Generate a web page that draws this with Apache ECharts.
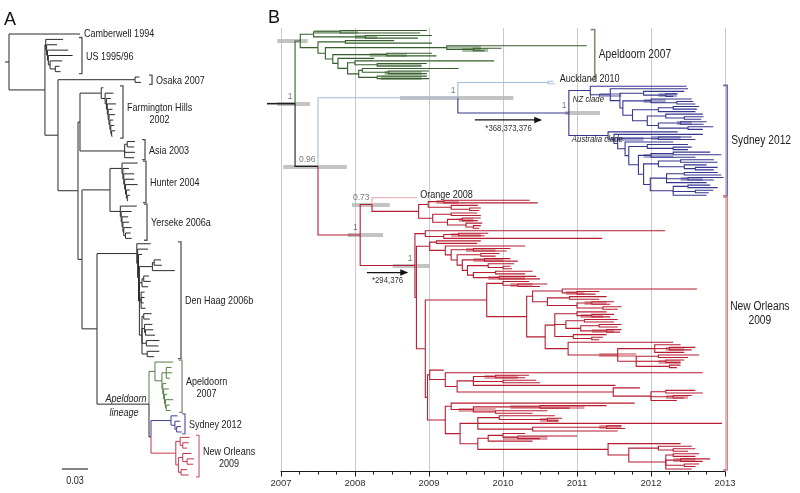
<!DOCTYPE html>
<html><head><meta charset="utf-8">
<script src="https://cdn.jsdelivr.net/npm/echarts/dist/echarts.min.js"></script>
<style>html,body{margin:0;padding:0;background:#fff}#chart{width:800px;height:493px}</style>
</head><body><div id="chart"></div>
<script>
// ================= DATA =================
// Panel A: divergence tree (substitutions/site). Node = [height, children...]; tip = number; string = named clade
const A_root = [0.0046, 'camberwell', [0.0461, 'us', [0.0611, 'osaka', [0.0842, [0.0865, 'farmington', 'asia'], [0.0888, [0.1211, 'hunter', 'yerseke'], [0.1061, 'denHaag', 'lineage']]]]]];
const A_lineage = [0.1661, 'apeldoorn', [0.1684, 'sydney', 'newOrleans']];
const A_camberwell = 0.0865;
const A_us = [0.047, 0.067, [0.048, 0.060, [0.049, 0.073, [0.050, 0.078, [0.052, 0.066, [0.058, 0.063, 0.064]]]]]];
const A_osaka = [0.150, 0.155, 0.157];
const A_farmington = [0.111, 0.1135, [0.1155, 0.125, [0.117, 0.122, [0.118, 0.128, [0.119, 0.124, [0.120, 0.127, [0.121, 0.125, [0.122, 0.126, [0.123, 0.127, 0.124]]]]]]]]];
const A_asia = [0.138, [0.141, 0.150, 0.149], 0.150, 0.149];
const A_hunter = [0.135, 0.153, [0.136, 0.143, [0.137, 0.149, [0.138, 0.149, [0.139, 0.153, [0.140, 0.144, [0.141, 0.144, 0.142]]]]]]];
const A_yerseke = [0.133, 0.152, [0.134, 0.146, [0.135, 0.142, [0.136, 0.143, [0.137, 0.146, [0.139, 0.145, 0.146]]]]]];
const A_denHaag = [0.152, 0.168, [0.153, 0.165, [0.154, 0.158, [0.155, [0.170, [0.172, 0.180, 0.181], 0.196], [0.158, [0.160, 0.166, 0.168], 0.165], [0.157, 0.161, 0.161, 0.160, 0.162], [0.158, [0.160, 0.169, 0.167], [0.161, 0.170, [0.162, 0.171, 0.173]], [0.163, 0.178, 0.177], [0.164, 0.178, 0.172]]]]]];
const A_apeldoorn = [0.173, 0.194, [0.181, [0.186, 0.192, 0.193, 0.190], [0.182, 0.186, [0.183, 0.189, [0.184, 0.187, [0.185, 0.194, [0.186, 0.190, 0.191]]]]]]];
const A_sydney = [0.1915, 0.199, [0.196, 0.202, [0.198, 0.203, 0.204]]];
const A_newOrleans = [0.197, [0.202, 0.213, [0.205, 0.212, 0.210]], [0.200, [0.205, 0.215, [0.210, 0.218, 0.217]], [0.203, 0.210, 0.212]]];
const A_scaleBar = 0.03;
const A_bracketClades = ['us', 'osaka', 'farmington', 'asia', 'hunter', 'yerseke', 'denHaag', 'apeldoorn', 'sydney', 'newOrleans'];
const A_bracketLabels = ['US 1995/96', 'Osaka 2007', 'Farmington Hills\n2002', 'Asia 2003', 'Hunter 2004', 'Yerseke 2006a', 'Den Haag 2006b', 'Apeldoorn\n2007', 'Sydney 2012', 'New Orleans\n2009'];

// Panel B: time-scaled tree (decimal years). Head may be [height, hpdLow, hpdHigh]
const yearTicks = [2007, 2008, 2009, 2010, 2011, 2012, 2013];
const B_root = [[2007.19, 2006.95, 2007.39], 'apeldoorn', 'n096'];
const B_n096 = [[2007.5, 2007.03, 2007.89], 'stem', 'newOrleans'];
const B_stem = [[2009.39, 2008.61, 2010.14], 'auckland', 'sydney'];
const B_auckland = [2010.61, 2010.68, 2010.70];
const B_sydney = [[2010.89, 2010.84, 2011.31], 'nz', 'australia'];
const B_apeldoorn = [[2007.26, 2006.95, 2007.36],
  [2007.44, [[2007.8, 2007.45, 2008.04], 2008.97, 2008.88], [[2008.14, 2008.0, 2008.3], 2009.04, 2008.85]],
  [2007.5,
    [2007.87, 2008.53, 2009.04],
    [2007.6,
      [[2009.24, 2009.24, 2009.7], 2011.13, [[2009.6, 2009.45, 2009.8], 2009.98, 2009.75]],
      [2007.7,
        [[2008.43, 2008.2, 2008.7], 2009.04, 2009.1],
        [2007.77,
          2008.26,
          [2007.9,
            [2008.0, 2009.88, [[2008.3, 2008.3, 2008.9], 2008.97, 2008.9]],
            [2008.05,
              [2008.1, 2009.4, [[2008.45, 2008.4, 2008.9], 2009.0, 2008.97]],
              [[2008.3, 2008.35, 2008.9], 2008.97, 2009.0]]]]]]]];
const B_nz = [2011.18,
  2012.48,
  [[2011.45, 2011.3, 2011.6],
    2012.5,
    [2011.58,
      [2011.9, 2012.45, [[2012.2, 2012.1, 2012.35], 2012.36, 2012.3]],
      [2011.62,
        [[2012.0, 2011.9, 2012.2], 2012.55, [2012.35, 2012.57, 2012.6]],
        [2011.75,
          [2012.1, [2012.3, 2012.65, 2012.62], 2012.6],
          [2011.95,
            [2012.2, 2012.7, [2012.45, 2012.71, 2012.68]],
            [2012.1, [[2012.4, 2012.35, 2012.55], 2012.75, 2012.71], [2012.5, 2012.84, 2012.7]]]]]]]];
const B_australia = [2011.42,
  2012.36,
  [[2011.5, 2011.45, 2011.9],
    2012.7,
    [2011.55,
      [[2012.1, 2012.0, 2012.4], 2012.55, 2012.6],
      [2011.65,
        2012.3,
        [2011.7,
          [2011.95, 2012.5, [2012.3, 2012.55, 2012.5]],
          [2011.83,
            [[2012.0, 2011.9, 2012.3], [2012.3, 2012.8, 2012.95], 2012.6],
            [2011.9,
              [2012.1, [2012.4, 2012.85, 2012.9], [2012.45, 2012.75, [2012.6, 2012.9, 2012.85]]],
              [2011.99,
                [2012.21, [2012.45, 2012.9, 2012.95], [[2012.5, 2012.4, 2012.7], 2012.98, 2012.85], 2012.75],
                [2012.3, [2012.5, 2012.8, 2012.9], [2012.6, 2012.84, 2012.78], 2012.75]]]]]]]]];
const B_newOrleans = [[2008.07, 2007.9, 2008.38], 'n073', 'r1'];
const B_orange = 2008.84;
const B_n073 = [[2008.23, 2007.96, 2008.47], 'orange',
  [2008.86,
    [2008.99, [[2009.2, 2009.1, 2009.4], 2010.36, 2010.47], [2009.3, 2009.66, [2009.55, 2009.7, 2009.68]]],
    [2009.05, [2009.3, 2009.65, 2009.7], [2009.25, [[2009.45, 2009.4, 2009.6], 2009.7, 2009.66], [2009.5, 2009.72, [2009.6, 2009.7, 2009.68]]]]]];
const B_redU2 = [2008.95, 2012.19, [2009.2, [[2009.4, 2009.3, 2009.7], 2009.8, 2009.75], 2011.34]];
const B_redC = [2009.22,
  2010.3,
  [2009.3, [[2009.6, 2009.5, 2009.9], 2010.1, 2010.05],
    [2009.38, [2009.7, 2009.95, 2009.9],
      [2009.45, [[2009.75, 2009.6, 2010.0], 2010.1, 2010.2],
        [2009.52, [2009.8, 2010.15, [2010.0, 2010.1, 2010.12]],
          [2009.6, [2009.9, 2010.4, 2010.3], [[2009.95, 2009.8, 2010.3], 2010.45, 2010.5]]]]]]];
const B_redD1 = [2010.0, 2010.35, [[2010.2, 2010.1, 2010.4], 2010.6, 2010.5]];
const B_redE1 = [2010.4,
  [2010.8, 2012.62, [[2011.0, 2010.85, 2011.1], 2011.3, 2011.25]],
  [2010.6, [2010.9, 2011.4, 2011.3], [2011.0, [[2011.2, 2011.1, 2011.4], 2011.5, 2011.45], [2011.35, 2011.6, 2011.55]]]];
const B_redE2a = [2010.7,
  [2011.0, 2011.4, [[2011.2, 2011.05, 2011.35], 2011.5, 2011.45]],
  [2010.85, [2011.1, 2011.55, 2011.5], [2011.05, [2011.3, 2011.6, 2011.55], [[2011.4, 2011.2, 2011.5], 2011.6, 2011.58]]],
  [2010.95, 2011.4, [2011.2, 2011.35, 2011.3]]];
const B_redE2b = [2010.88, 2012.3,
  [[2011.55, 2011.3, 2011.8],
    [2012.05, 2012.4, [[2012.25, 2012.2, 2012.45], 2012.6, 2012.55], 2012.45],
    [2011.8, [2012.1, 2012.65, 2012.5], [[2012.2, 2012.1, 2012.4], 2012.45, 2012.4], [2012.25, 2012.4, 2012.35]]]];
const B_redF1 = [2009.01, 2009.2,
  [2009.22, 2012.7,
    [2009.38,
      [2009.6, [[2009.9, 2009.75, 2010.2], 2010.35, 2010.3], [2010.0, 2010.45, 2010.5], 2011.52],
      [2011.49, 2011.85, [2012.0, [2012.2, 2012.6, 2012.7], [[2012.3, 2012.2, 2012.5], 2012.55, 2012.45], 2012.35]]]]];
const B_redF2a = [2009.3, 2011.78, [[2009.6, 2009.4, 2009.9], [[2010.5, 2010.1, 2011.1], 2011.4, 2010.9], [2009.9, 2010.6, 2010.4]]];
const B_redF2b1 = [2009.66, [2009.95, 2010.7, [[2010.6, 2010.5, 2010.75], 2010.8, 2010.75]], 2012.96, [2010.4, [[2011.4, 2011.3, 2011.6], 2011.6, 2011.65], 2011.55]];
const B_redF2b2 = [2009.66,
  [2009.8, [2010.0, 2010.3, [[2010.2, 2010.0, 2010.6], 2011.0, 2010.5]], 2010.4],
  [2011.42, 2012.4, [2011.7, [2012.1, 2012.55, [2012.3, 2012.6, 2012.5]], [2012.2, [2012.3, 2012.65, 2012.6], [[2012.4, 2012.3, 2012.6], 2012.8, 2012.7], [2012.45, 2012.65, 2012.6], 2012.55]]]];
const B_r1 = [[2008.81, 2008.51, 2009.01], B_redU2,
  [2008.83,
    [2009.01, [2009.1, 2009.7, 2009.65], B_redC],
    [2008.95,
      [2009.78, B_redD1, [2010.32, B_redE1, [2010.57, B_redE2a, B_redE2b]]],
      [2008.98, B_redF1, [2009.22, B_redF2a, [2009.42, B_redF2b1, B_redF2b2]]]]]];
const B_bracketClades = ['apeldoorn', 'sydney', 'newOrleans'];
const B_bracketLabels = ['Apeldoorn 2007', 'Sydney 2012', 'New Orleans\n2009'];
const B_supportNodes = ['root', 'n096', 'stem', 'sydney', 'n073', 'newOrleans', 'r1'];
const B_supportValues = ['1', '0.96', '1', '1', '0.73', '1', '1'];
const B_mutationNodes = ['sydney', 'r1'];
const B_mutationLabels = ['*368,373,376', '*294,376'];
const B_mutationSpans = [[2009.62, 2010.53], [2008.16, 2008.72]];

// ================= STYLE / LAYOUT =================
const LAY = {
  A: { left: 5, width: 225, xMax: 225 / 867, first: 34, last: 475, stubStart: 0, tick: 0.0035,
       bracketX: [0.0888, 0.1696, 0.1361, 0.1615, 0.1626, 0.1638, 0.203, 0.2042, 0.2076, 0.2238] },
  B: { left: 281, width: 444, first: 30.5, last: 469, stubStart: 2006.81, tick: 0.055,
       bracketX: [2011.24, 2013.03, 2013.03] }
};
const colorsA = { root: '#2a2a2a', apeldoorn: '#527d45', sydney: '#3d3d99', newOrleans: '#c4364a' };
const colorsB = { root: '#1e1e1e', apeldoorn: '#355f2b', stem: '#a3bde0', auckland: '#a3bde0', sydney: '#36368f', newOrleans: '#b81d30', orange: '#e3a7ab' };
const bracketColA = { apeldoorn: '#7c9271', sydney: '#6868b0', newOrleans: '#d0707c' };
const bracketColB = { apeldoorn: '#7c9271', sydney: '#6a6ab2', newOrleans: '#d97f8a' };

const mctx = document.createElement('canvas').getContext('2d');
function hasFont(name) {
  mctx.font = '20px monospace'; const a = mctx.measureText('Farmington Hills 2002').width;
  mctx.font = "20px '" + name + "', monospace"; return Math.abs(mctx.measureText('Farmington Hills 2002').width - a) > 0.5;
}
const NARROW = hasFont('Liberation Sans Narrow');
const FAM = NARROW ? "'Liberation Sans Narrow', sans-serif" : "'Liberation Sans', Arial, sans-serif";
const SX = NARROW ? 1 : 0.82;
function textW(str, font) { mctx.font = font; return Math.max.apply(null, str.split('\n').map(s => mctx.measureText(s).width)); }

// ================= TREE LAYOUT =================
function layoutTree(rootName, lookup, colors) {
  const branches = [], hpds = [], clades = {};
  let leaf = 0;
  function walk(spec, color) {
    let name = null;
    if (typeof spec === 'string') { name = spec; color = colors[name] || color; spec = lookup[name]; }
    const first = leaf;
    let node;
    if (typeof spec === 'number') node = { t: spec, y: leaf++, maxT: spec };
    else {
      const head = spec[0];
      const t = Array.isArray(head) ? head[0] : head;
      const kids = spec.slice(1).map(k => walk(k, color));
      const y = (kids[0].y + kids[kids.length - 1].y) / 2;
      kids.forEach(k => branches.push({ coords: [[t, y], [t, k.y], [k.t, k.y]], lineStyle: { color: k.color } }));
      if (Array.isArray(head)) hpds.push({ lo: head[1], hi: head[2], y: y, color: color, named: !!name });
      node = { t: t, y: y, maxT: Math.max.apply(null, kids.map(k => k.maxT)) };
    }
    node.color = color;
    if (name) clades[name] = { node: node, first: first, last: leaf - 1 };
    return node;
  }
  const root = walk(rootName, '#000');
  return { root: root, branches: branches, hpds: hpds, clades: clades, count: leaf };
}

const lookupA = { root: A_root, lineage: A_lineage, camberwell: A_camberwell, us: A_us, osaka: A_osaka, farmington: A_farmington, asia: A_asia,
  hunter: A_hunter, yerseke: A_yerseke, denHaag: A_denHaag, apeldoorn: A_apeldoorn, sydney: A_sydney, newOrleans: A_newOrleans };
const lookupB = { root: B_root, n096: B_n096, stem: B_stem, auckland: B_auckland, sydney: B_sydney, nz: B_nz, australia: B_australia,
  apeldoorn: B_apeldoorn, newOrleans: B_newOrleans, orange: B_orange, n073: B_n073, r1: B_r1 };
const tA = layoutTree('root', lookupA, colorsA);
const tB = layoutTree('root', lookupB, colorsB);

function gridFor(L, n) {
  const s = (L.last - L.first) / (n - 1);
  return { top: L.first - s, height: (n + 1) * s };
}
const gA = gridFor(LAY.A, tA.count), gB = gridFor(LAY.B, tB.count);

const branchA = tA.branches.concat([{ coords: [[LAY.A.stubStart, tA.root.y], [tA.root.t, tA.root.y]], lineStyle: { color: colorsA.root } }]);
const branchB = tB.branches.concat([{ coords: [[LAY.B.stubStart, tB.root.y], [tB.root.t, tB.root.y]], lineStyle: { color: colorsB.root, width: 1.6 } }]);
const hpdB = tB.hpds.map(h => ({ coords: [[h.lo, h.y], [h.hi, h.y]],
  lineStyle: h.named ? { color: '#b9b9b9', opacity: 0.85, width: 4 } : { color: h.color, opacity: 0.42, width: 4 } }));

function brackets(tree, names, xs, tick, colMap, def) {
  return names.map((n, i) => {
    const c = tree.clades[n];
    const y0 = c.first - 0.35, y1 = c.last + 0.35;
    return { coords: [[xs[i] - tick, y0], [xs[i], y0], [xs[i], y1], [xs[i] - tick, y1]], lineStyle: { color: colMap[n] || def } };
  });
}
const brA = brackets(tA, A_bracketClades, LAY.A.bracketX, LAY.A.tick, bracketColA, '#555');
const brB = brackets(tB, B_bracketClades, LAY.B.bracketX, LAY.B.tick, bracketColB, '#666');

const supportData = B_supportNodes.map((n, i) => ({ name: B_supportValues[i], value: [tB.clades[n].node.t, tB.clades[n].node.y] }));

const linesBase = { type: 'lines', coordinateSystem: 'cartesian2d', polyline: true, silent: true, clip: false, animation: false };

const chart = echarts.init(document.getElementById('chart'), null, { renderer: 'canvas' });
chart.setOption({
  animation: false,
  backgroundColor: '#fff',
  grid: [
    { left: LAY.A.left, top: gA.top, width: LAY.A.width, height: gA.height },
    { left: LAY.B.left, top: gB.top, width: LAY.B.width, height: gB.height }
  ],
  xAxis: [
    { gridIndex: 0, type: 'value', min: 0, max: LAY.A.xMax, show: false },
    { gridIndex: 1, type: 'value', min: yearTicks[0], max: yearTicks[yearTicks.length - 1], interval: 1,
      axisLine: { show: true, onZero: false, lineStyle: { color: '#1a1a1a', width: 1 } },
      axisTick: { show: true, length: 5, lineStyle: { color: '#1a1a1a' } },
      minorTick: { show: true, splitNumber: 4, length: 3, lineStyle: { color: '#1a1a1a' } },
      axisLabel: { fontSize: NARROW ? 11 : 9.5, color: '#333', margin: 7, fontFamily: FAM, formatter: v => String(v) },
      splitLine: { show: true, lineStyle: { color: '#c9c9c9', width: 1 } } }
  ],
  yAxis: [
    { gridIndex: 0, type: 'value', inverse: true, min: -1, max: tA.count, show: false },
    { gridIndex: 1, type: 'value', inverse: true, min: -1, max: tB.count, show: false }
  ],
  series: [
    Object.assign({}, linesBase, { xAxisIndex: 0, yAxisIndex: 0, z: 3, lineStyle: { width: 1, opacity: 1, curveness: 0 }, data: branchA }),
    Object.assign({}, linesBase, { xAxisIndex: 0, yAxisIndex: 0, z: 3, lineStyle: { width: 1.3, opacity: 1, curveness: 0 }, data: brA }),
    Object.assign({}, linesBase, { xAxisIndex: 1, yAxisIndex: 1, z: 2, polyline: false, lineStyle: { width: 4, opacity: 0.5, curveness: 0, cap: 'butt' }, data: hpdB }),
    Object.assign({}, linesBase, { xAxisIndex: 1, yAxisIndex: 1, z: 3, lineStyle: { width: 1.1, opacity: 1, curveness: 0 }, data: branchB }),
    Object.assign({}, linesBase, { xAxisIndex: 1, yAxisIndex: 1, z: 3, lineStyle: { width: 1.6, opacity: 1, curveness: 0 }, data: brB }),
    { type: 'scatter', xAxisIndex: 1, yAxisIndex: 1, z: 5, silent: true, symbolSize: 1, itemStyle: { color: 'rgba(0,0,0,0)' },
      label: { show: true, position: 'left', distance: 2, offset: [0, -7], formatter: '{b}', fontSize: NARROW ? 10 : 8.5, color: '#555', fontFamily: FAM },
      data: supportData }
  ]
});

// ================= ANNOTATIONS =================
const pA = (x, y) => chart.convertToPixel({ gridIndex: 0 }, [x, y]);
const pB = (x, y) => chart.convertToPixel({ gridIndex: 1 }, [x, y]);
const gfx = [];
function addText(x, y, text, o) {
  o = Object.assign({ size: 11, color: '#222', align: 'left', valign: 'middle', italic: false, family: FAM, sx: SX, lh: null }, o || {});
  const font = (o.italic ? 'italic ' : '') + o.size + 'px ' + o.family;
  const style = { text: text, font: font, fill: o.color, align: o.align, verticalAlign: o.valign, textAlign: o.align, textVerticalAlign: o.valign };
  if (o.lh) style.lineHeight = o.lh;
  gfx.push({ type: 'text', x: x, y: y, scaleX: o.sx, silent: true, z: 10, style: style });
}
function addBlock(left, cy, text, o) {
  o = o || {};
  const size = o.size || 11;
  const font = (o.italic ? 'italic ' : '') + size + 'px ' + FAM;
  const w = textW(text, font) * SX;
  addText(left + w / 2, cy, text, Object.assign({}, o, { align: 'center' }));
}

addText(4, 11, 'A', { size: 18, valign: 'top', family: "'Liberation Sans', Arial, sans-serif", sx: 1, color: '#111' });
addText(268, 9, 'B', { size: 18, valign: 'top', family: "'Liberation Sans', Arial, sans-serif", sx: 1, color: '#111' });

const camb = tA.clades.camberwell.node;
const cp = pA(camb.maxT, camb.y);
addText(cp[0] + 4, cp[1], 'Camberwell 1994', { size: 11 });
A_bracketClades.forEach((n, i) => {
  const c = tA.clades[n];
  const p = pA(LAY.A.bracketX[i], (c.first + c.last) / 2);
  const lbl = A_bracketLabels[i];
  if (lbl.indexOf('\n') >= 0) addBlock(p[0] + 4, p[1] + 2, lbl, { size: 11, lh: 12 });
  else addText(p[0] + 4, p[1] + 1, lbl, { size: 11 });
});
const lin = tA.clades.lineage.node;
const lp = pA(lin.t, lin.y);
addText(lp[0] - 23, lp[1] - 5, 'Apeldoorn', { size: 11, italic: true, align: 'center' });
addText(lp[0] - 25, lp[1] + 9, 'lineage', { size: 11, italic: true, align: 'center' });
const sb0 = pA(0, 0)[0], sb1 = pA(A_scaleBar, 0)[0];
const sbLen = sb1 - sb0;
gfx.push({ type: 'line', silent: true, shape: { x1: 62, y1: 469, x2: 62 + sbLen, y2: 469 }, style: { stroke: '#333', lineWidth: 1.2 } });
addText(62 + sbLen / 2, 481, String(A_scaleBar), { size: 11, align: 'center' });

B_bracketClades.forEach((n, i) => {
  const c = tB.clades[n];
  const p = pB(LAY.B.bracketX[i], (c.first + c.last) / 2);
  const lbl = B_bracketLabels[i];
  if (lbl.indexOf('\n') >= 0) addBlock(p[0] + 3, p[1] - 20, lbl, { size: 12.5, lh: 14 });
  else addText(p[0] + 4, p[1], lbl, { size: 12.5 });
});
const auck = tB.clades.auckland.node;
const ap = pB(auck.maxT, auck.y);
addText(ap[0] + 5, ap[1] - 3, 'Auckland 2010', { size: 11 });
const orn = tB.clades.orange.node;
const op = pB(orn.maxT, orn.y);
addText(op[0] + 3, op[1] - 3, 'Orange 2008', { size: 11 });
const syd = tB.clades.sydney.node;
const nzC = tB.clades.nz, auC = tB.clades.australia;
addText(pB(syd.t, 0)[0] + 4, pB(0, nzC.first)[1] + 13, 'NZ clade', { size: 9.5, italic: true });
addText(pB(syd.t, 0)[0] + 3, pB(0, auC.first)[1] + 7, 'Australia clade', { size: 9.5, italic: true });
B_mutationNodes.forEach((n, i) => {
  const nd = tB.clades[n].node;
  const y = pB(0, nd.y)[1] + 7;
  const x1 = pB(B_mutationSpans[i][0], 0)[0], x2 = pB(B_mutationSpans[i][1], 0)[0];
  gfx.push({ type: 'line', silent: true, z: 10, shape: { x1: x1, y1: y, x2: x2 - 5, y2: y }, style: { stroke: '#111', lineWidth: 1.3 } });
  gfx.push({ type: 'polygon', silent: true, z: 10, shape: { points: [[x2, y], [x2 - 8, y - 3.2], [x2 - 8, y + 3.2]] }, style: { fill: '#111' } });
  addText((x1 + x2) / 2, y + 8, B_mutationLabels[i], { size: 9.5, align: 'center', color: '#333' });
});

chart.setOption({ graphic: { elements: gfx } });
</script>
</body></html>
